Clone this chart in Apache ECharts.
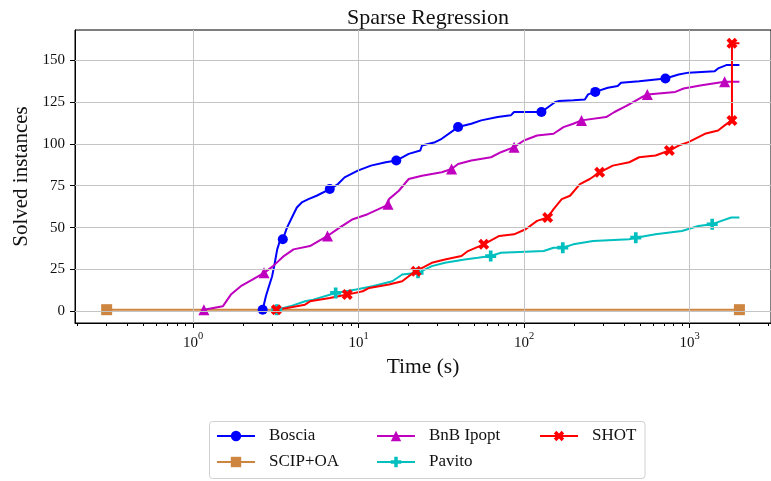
<!DOCTYPE html>
<html>
<head>
<meta charset="utf-8">
<style>
  html, body { margin: 0; padding: 0; background: #fff; }
  #chart { width: 771px; height: 481px; }
</style>
<script src="https://cdn.jsdelivr.net/npm/echarts@6/dist/echarts.min.js"></script>
</head>
<body>
<div id="chart"></div>
<script>
// Cumulative number of solved instances over solve time (log scale).
const seriesNames = ['Boscia', 'SCIP+OA', 'BnB Ipopt', 'Pavito', 'SHOT'];

const bosciaTime = [2.63, 2.75, 2.87, 3.00, 3.10, 3.22, 3.34, 3.48, 3.69, 3.95, 4.23, 4.53, 4.97, 5.57, 6.69,
  7.50, 8.22, 9.88, 11.86, 14.57, 16.88, 20.07, 23.57, 24.13, 28.96, 31.76, 39.89, 47.96, 55.03, 69.1,
  83.1, 86.9, 109.3, 127.2, 154.2, 161.3, 198.2, 232.8, 243.6, 269.2, 320.6, 367.9, 384.9, 495.6, 714.2,
  858.6, 984.9, 1419, 1487, 1667, 2000];
const bosciaSolved = [1, 9, 15, 21, 28, 37, 42, 43, 50, 56, 62, 65, 67, 69, 73,
  76, 80, 84, 87, 89, 90, 94, 96, 99, 101, 103, 110, 112, 114, 116,
  117, 119, 119, 119, 125, 125.5, 126, 126.5, 129.5, 131, 133.5, 134.5, 136.5, 137.4, 139,
  141.4, 142.5, 143.4, 145, 147, 147];
const bosciaMarks = [0, 7, 14, 20, 26, 33, 39, 44];

const scipTime = [0.3, 2000];
const scipSolved = [1, 1];
const scipMarks = [0, 1];

const bnbTime = [1.16, 1.51, 1.69, 1.94, 2.28, 2.68, 3.04, 3.53, 4.04, 5.08, 6.48, 7.67, 9.22, 11.33, 14.57,
  15.04, 15.25, 17.49, 20.07, 24.13, 31.76, 36.43, 39.89, 47.96, 63.1, 72.4, 86.9, 99.7, 119.7, 150.6,
  172.8, 198.2, 222.2, 313.2, 351.6, 412.3, 506.7, 555.4, 819.4, 919.5, 1182, 1628, 2000];
const bnbSolved = [1, 3, 10, 15, 19, 23, 27, 33, 37, 39, 45, 50, 55, 58, 63,
  64, 67, 72, 79, 81, 83, 85, 88, 90, 92, 95, 98, 102, 105, 106,
  110, 112, 114, 116, 119, 122.5, 127.5, 129.5, 131, 133, 135, 137, 137];
const bnbMarks = [0, 5, 10, 15, 21, 26, 32, 37, 41];

const pavitoTime = [3.2, 3.86, 4.74, 5.32, 7.26, 9.65, 12.14, 15.98, 18.33, 22.84, 27.68, 33.22, 43.74, 52.5,
  62.8, 72.4, 131.3, 150.6, 171.2, 198.2, 260.9, 431.9, 472.9, 622.6, 898.5, 1130, 1369, 1556, 1786, 2000];
const pavitoSolved = [1, 3, 6, 7, 11, 13, 15, 18, 22, 23, 27, 29, 31, 32,
  33, 35, 36, 38, 38, 40, 42, 43, 44, 46, 48, 51, 52, 54, 56, 56];
const pavitoMarks = [0, 4, 9, 14, 18, 22, 26];

const shotTime = [3.18, 3.69, 4.74, 5.08, 6.69, 8.53, 10.58, 11.58, 15.25, 18.33, 20.07, 22.22, 27.68, 33.22,
  41.8, 45.77, 57.0, 70.7, 86.9, 102.1, 119.7, 138.7, 150.6, 168.8, 189.4, 217.4, 249.4, 286.1, 343.5,
  431.9, 495.6, 622.6, 754.6, 858.6, 984.9, 1237, 1487, 1628, 1803, 1803, 2000];
const shotSolved = [1, 2, 4, 6, 8, 10, 12, 14, 16, 18, 21, 24, 29, 31,
  33, 36, 40, 45, 46, 49, 54, 56, 61, 67, 69, 76, 79, 83, 87,
  89, 92, 93, 96, 99, 101, 106, 108, 111, 114, 160, 160];
const shotMarks = [0, 5, 11, 16, 21, 27, 32, 38, 39];

// Axis ticks
const xMajorTicks = [1, 10, 100, 1000];
const xMinorTicks = [];
[0.1, 1, 10, 100, 1000].forEach(d => { for (let k = 2; k <= 9; k++) xMinorTicks.push(+(k * d).toPrecision(3)); });
const yTicks = [0, 25, 50, 75, 100, 125, 150];
const xMin = 0.1931, xMax = 3104;
const yMin = -6.95, yMax = 167.95;

const FONT = 'Liberation Serif';
const TXT = '#111';

const plusPath = 'path://M-1,-3L1,-3L1,-1L3,-1L3,1L1,1L1,3L-1,3L-1,1L-3,1L-3,-1L-1,-1Z';
const crossPath = 'path://M1,-2L2,-1L1,0L2,1L1,2L0,1L-1,2L-2,1L-1,0L-2,-1L-1,-2L0,-1Z';

function points(times, counts, marks) {
  return times.map((t, i) => marks.includes(i)
    ? { value: [t, counts[i]] }
    : { value: [t, counts[i]], symbol: 'none' });
}

function lineSeries(name, color, symbol, size, times, counts, marks) {
  return {
    name, type: 'line', z: 3,
    data: points(times, counts, marks),
    symbol, symbolSize: size, showAllSymbol: true,
    lineStyle: { color, width: 2 },
    itemStyle: { color, borderWidth: 0 },
    emphasis: { disabled: true },
    animation: false
  };
}

const chart = echarts.init(document.getElementById('chart'), null, { renderer: 'canvas' });

const legendBase = {
  orient: 'vertical', itemWidth: 38, itemHeight: 13, itemGap: 6, padding: 0, height: 55,
  textStyle: { fontFamily: FONT, fontSize: 17, color: TXT, lineHeight: 20, padding: [0, 0, 0, 9] },
  selectedMode: false
};

chart.setOption({
  animation: false,
  backgroundColor: '#fff',
  title: {
    text: 'Sparse Regression', left: 423, top: 2, textAlign: 'center',
    textStyle: { fontFamily: FONT, fontSize: 22, fontWeight: 'normal', color: TXT }
  },
  grid: { left: 75, top: 30, width: 705, height: 293, show: true, borderColor: '#000', borderWidth: 1, containLabel: false },
  legend: [
    Object.assign({ data: [seriesNames[0], seriesNames[1]], left: 216, top: 426 }, legendBase),
    Object.assign({ data: [seriesNames[2], seriesNames[3]], left: 376, top: 426 }, legendBase),
    Object.assign({ data: [seriesNames[4]], left: 539, top: 426 }, legendBase)
  ],
  graphic: [{
    type: 'rect', z: 100, silent: true,
    shape: { x: 209.5, y: 421.5, width: 435.5, height: 57, r: 3 },
    style: { fill: 'none', stroke: '#d0d0d0', lineWidth: 1 }
  }],
  xAxis: [{
    type: 'log', logBase: 10, min: xMin, max: xMax,
    name: 'Time (s)', nameLocation: 'middle', nameGap: 32,
    nameTextStyle: { fontFamily: FONT, fontSize: 21.5, color: TXT },
    axisLine: { show: true, onZero: false, lineStyle: { color: '#000', width: 1 } },
    axisTick: { show: true, inside: false, length: 5, customValues: xMajorTicks, lineStyle: { color: '#000', width: 1 } },
    minorTick: { show: false },
    splitLine: { show: false },
    axisLabel: {
      customValues: xMajorTicks, margin: 8,
      formatter: v => '{b|10}{s|' + Math.round(Math.log10(v)) + '}',
      rich: {
        b: { fontFamily: FONT, fontSize: 15, color: TXT, lineHeight: 20, verticalAlign: 'bottom' },
        s: { fontFamily: FONT, fontSize: 10.5, color: TXT, lineHeight: 12, verticalAlign: 'top' }
      }
    }
  }, {
    type: 'log', logBase: 10, min: xMin, max: xMax, position: 'bottom', gridIndex: 0,
    axisLine: { show: false, onZero: false },
    axisTick: { show: true, inside: false, length: 3, customValues: xMinorTicks, lineStyle: { color: '#000', width: 1 } },
    minorTick: { show: false },
    splitLine: { show: false },
    axisLabel: { show: false }
  }],
  yAxis: {
    type: 'value', min: yMin, max: yMax,
    name: 'Solved instances', nameLocation: 'middle', nameGap: 43,
    nameTextStyle: { fontFamily: FONT, fontSize: 21, color: TXT },
    axisLine: { show: true, onZero: false, lineStyle: { color: '#000', width: 1 } },
    axisTick: { show: true, inside: false, length: 5, customValues: yTicks, lineStyle: { color: '#000', width: 1 } },
    splitLine: { show: false },
    axisLabel: { customValues: yTicks, margin: 10, fontFamily: FONT, fontSize: 15, color: TXT }
  },
  series: [
    {
      name: 'grid', type: 'line', data: [], z: 1, silent: true,
      markLine: {
        silent: true, symbol: 'none', label: { show: false }, animation: false,
        lineStyle: { color: '#c4c4c4', width: 1, type: 'solid' },
        emphasis: { disabled: true },
        data: xMajorTicks.map(v => ({ xAxis: v })).concat(yTicks.map(v => ({ yAxis: v })))
      }
    },
    lineSeries(seriesNames[0], '#0000ff', 'circle', 10, bosciaTime, bosciaSolved, bosciaMarks),
    lineSeries(seriesNames[1], '#cd853f', 'rect', 11, scipTime, scipSolved, scipMarks),
    lineSeries(seriesNames[2], '#bf00bf', 'triangle', 11, bnbTime, bnbSolved, bnbMarks),
    lineSeries(seriesNames[3], '#00bfbf', plusPath, 11, pavitoTime, pavitoSolved, pavitoMarks),
    lineSeries(seriesNames[4], '#ff0000', crossPath, 11, shotTime, shotSolved, shotMarks)
  ]
});
</script>
</body>
</html>
